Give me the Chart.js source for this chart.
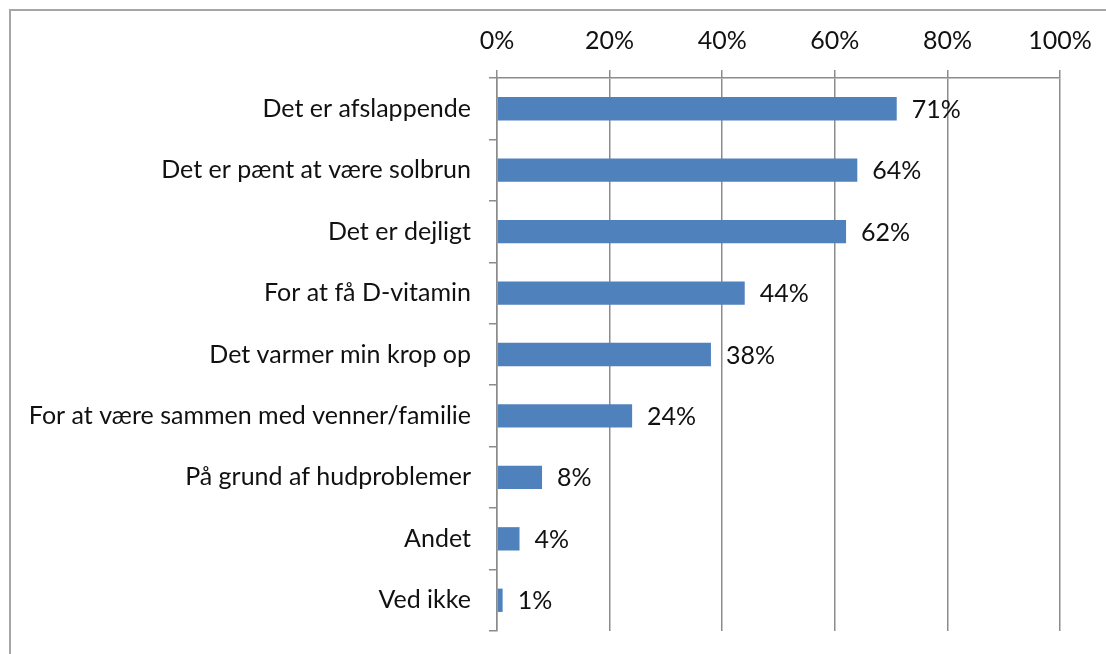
<!DOCTYPE html>
<html>
<head>
<meta charset="utf-8">
<script src="https://cdn.jsdelivr.net/npm/chart.js@4"></script>
<style>
  html, body { margin: 0; padding: 0; background: #fff; overflow: hidden; }
  #frame { position: absolute; left: 9px; top: 9px; width: 1200px; height: 800px; border: 2px solid #a6a6a6; }
  #wrap { position: absolute; left: 0; top: 0; width: 1106px; height: 654px; }
</style>
</head>
<body>
<div id="frame"></div>
<div id="wrap"><canvas id="chart"></canvas></div>
<script>
// chart data
const categories = [
    'Det er afslappende',
    'Det er pænt at være solbrun',
    'Det er dejligt',
    'For at få D-vitamin',
    'Det varmer min krop op',
    'For at være sammen med venner/familie',
    'På grund af hudproblemer',
    'Andet',
    'Ved ikke'
];
const values = [71, 64, 62, 44, 38, 24, 8, 4, 1];
const tickLabels = ['0%', '20%', '40%', '60%', '80%', '100%'];

const FONT = { family: 'Lato', size: 25 };
const GRID = '#8c8c8c';
const TEXT = '#111';

// value labels to the right of each bar
const valueLabels = {
    id: 'valueLabels',
    afterDatasetsDraw(chart) {
        const ctx = chart.ctx;
        const meta = chart.getDatasetMeta(0);
        ctx.save();
        ctx.font = FONT.size + 'px ' + FONT.family;
        ctx.fillStyle = TEXT;
        ctx.textAlign = 'left';
        ctx.textBaseline = 'middle';
        meta.data.forEach((bar, i) => {
            ctx.fillText(values[i] + '%', bar.x + 15, bar.y + 1);
        });
        ctx.restore();
    }
};

new Chart(document.getElementById('chart').getContext('2d'), {
    type: 'bar',
    data: {
        labels: categories,
        datasets: [{
            data: values,
            backgroundColor: '#4f81bd',
            borderWidth: 0,
            barPercentage: 0.38,
            categoryPercentage: 1
        }]
    },
    options: {
        indexAxis: 'y',
        responsive: true,
        maintainAspectRatio: false,
        animation: false,
        layout: { padding: { left: 10, top: 10, right: 46, bottom: 23 } },
        plugins: { legend: { display: false }, tooltip: { enabled: false } },
        scales: {
            x: {
                position: 'top',
                min: 0,
                max: 100,
                afterFit: (s) => { s.height = 68; s.paddingLeft = 0; s.paddingRight = 0; },
                afterBuildTicks: (s) => { s.ticks = tickLabels.map((t, i) => ({ value: i * 20 })); },
                ticks: {
                    font: FONT,
                    color: TEXT,
                    padding: 14,
                    callback: (v, i) => tickLabels[i]
                },
                grid: { color: GRID, lineWidth: 1.5, tickLength: 8 },
                border: { color: GRID, width: 1.5 }
            },
            y: {
                afterFit: (s) => { s.width = 487; s.paddingTop = 0; s.paddingBottom = 0; },
                ticks: { font: FONT, color: TEXT, padding: 18 },
                grid: { offset: true, drawOnChartArea: false, color: GRID, lineWidth: 1.5, tickLength: 8 },
                border: { color: GRID, width: 1.5 }
            }
        }
    },
    plugins: [valueLabels]
});
</script>
</body>
</html>
